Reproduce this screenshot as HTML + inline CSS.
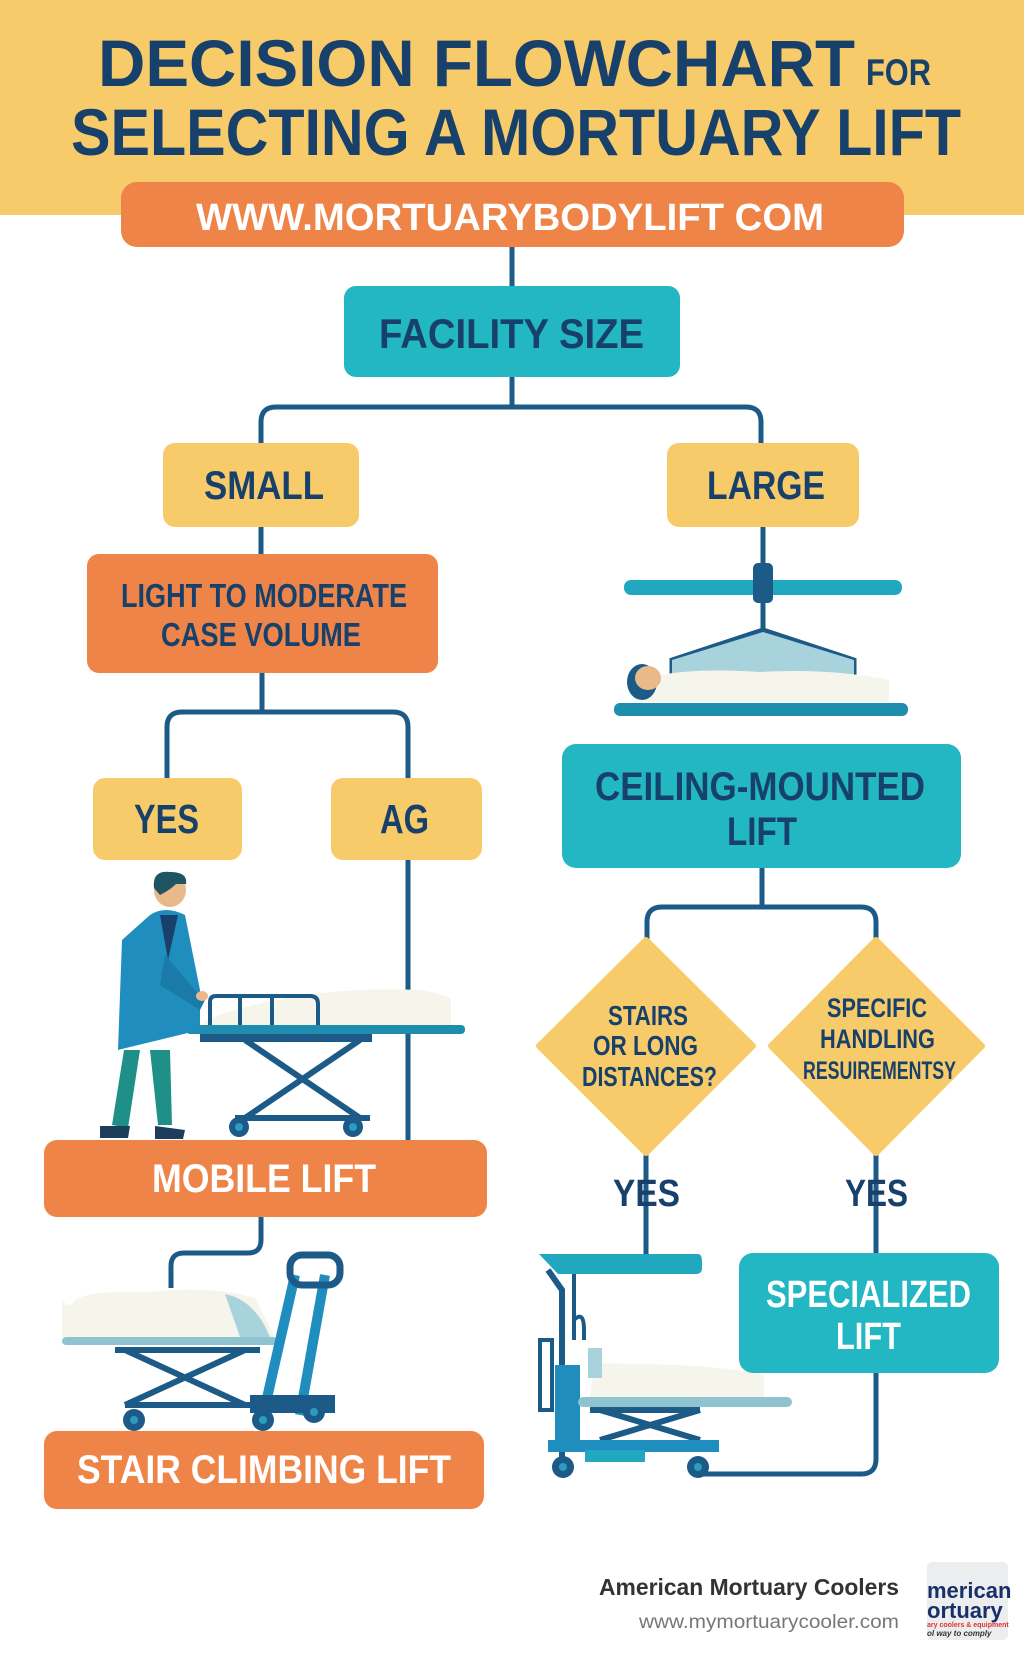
<!DOCTYPE html>
<html><head><meta charset="utf-8"><style>
html,body{margin:0;padding:0;background:#fff;}
svg{display:block;}
text{font-family:"Liberation Sans",sans-serif;font-weight:bold;}
</style></head><body>
<svg width="1024" height="1666" viewBox="0 0 1024 1666" xmlns="http://www.w3.org/2000/svg">
<rect x="0" y="0" width="1024" height="215" fill="#F8CB6A"/>
<text x="98" y="86" font-size="66" fill="#17416A" textLength="757" lengthAdjust="spacingAndGlyphs">DECISION FLOWCHART</text>
<text x="866" y="85" font-size="37" fill="#17416A" textLength="65" lengthAdjust="spacingAndGlyphs">FOR</text>
<text x="71" y="155" font-size="66" fill="#17416A" textLength="890" lengthAdjust="spacingAndGlyphs">SELECTING A MORTUARY LIFT</text>

<g fill="none" stroke="#1C5A88" stroke-width="5" stroke-linejoin="round">
<path d="M512 247 V286"/>
<path d="M512 377 V407"/>
<path d="M261 443 V422 Q261 407 276 407 H746 Q761 407 761 422 V443"/>
<path d="M261 527 V554"/>
<path d="M763 527 V565"/>
<path d="M262 673 V712"/>
<path d="M167 778 V727 Q167 712 182 712 H393 Q408 712 408 727 V778"/>
<path d="M408 860 V1140"/>
<path d="M762 868 V907"/>
<path d="M647 940 V922 Q647 907 662 907 H861 Q876 907 876 922 V940"/>
<path d="M646 1153 V1254"/>
<path d="M876 1153 V1253"/>
<path d="M876 1373 V1459 Q876 1474 861 1474 H703"/>
<path d="M261 1217 V1240 Q261 1253 248 1253 H184 Q171 1253 171 1266 V1288"/>
</g>

<rect x="121" y="182" width="783" height="65" rx="16" fill="#EF8449"/>
<text x="196" y="230" font-size="38" fill="#fff" textLength="628" lengthAdjust="spacingAndGlyphs">WWW.MORTUARYBODYLIFT COM</text>

<rect x="344" y="286" width="336" height="91" rx="12" fill="#22B7C3"/>
<text x="379" y="348" font-size="42" fill="#17416A" textLength="265" lengthAdjust="spacingAndGlyphs">FACILITY SIZE</text>

<rect x="163" y="443" width="196" height="84" rx="12" fill="#F8CB6A"/>
<text x="204" y="499" font-size="40" fill="#17416A" textLength="120" lengthAdjust="spacingAndGlyphs">SMALL</text>
<rect x="667" y="443" width="192" height="84" rx="12" fill="#F8CB6A"/>
<text x="707" y="499" font-size="40" fill="#17416A" textLength="118" lengthAdjust="spacingAndGlyphs">LARGE</text>

<rect x="87" y="554" width="351" height="119" rx="12" fill="#EF8449"/>
<text x="121" y="607" font-size="33" fill="#17416A" textLength="286" lengthAdjust="spacingAndGlyphs">LIGHT TO MODERATE</text>
<text x="161" y="646" font-size="33" fill="#17416A" textLength="200" lengthAdjust="spacingAndGlyphs">CASE VOLUME</text>

<rect x="93" y="778" width="149" height="82" rx="12" fill="#F8CB6A"/>
<text x="134" y="833" font-size="41" fill="#17416A" textLength="65" lengthAdjust="spacingAndGlyphs">YES</text>
<rect x="331" y="778" width="151" height="82" rx="12" fill="#F8CB6A"/>
<text x="380" y="833" font-size="41" fill="#17416A" textLength="49" lengthAdjust="spacingAndGlyphs">AG</text>

<!-- ceiling illustration -->
<rect x="624" y="580" width="278" height="15" rx="7" fill="#22A7C0"/>
<rect x="753" y="563" width="20" height="40" rx="5" fill="#1C5A88"/>
<path d="M763 603 V630 M763 630 L672 660 V690 M763 630 L854 660 V690" stroke="#1C5A88" stroke-width="5" fill="none"/>
<path d="M672 660 L763 632 L854 660 V700 H672 Z" fill="#A9D3DC"/>
<path d="M660 675 Q700 668 760 672 Q830 668 889 680 V702 H640 Z" fill="#F6F5EC"/>
<ellipse cx="642" cy="682" rx="15" ry="18" fill="#1C5A88"/>
<ellipse cx="648" cy="678" rx="13" ry="12" fill="#E9B98A"/>
<rect x="614" y="703" width="294" height="13" rx="6" fill="#1F8EAE"/>

<rect x="562" y="744" width="399" height="124" rx="14" fill="#22B7C3"/>
<text x="595" y="800" font-size="40" fill="#17416A" textLength="330" lengthAdjust="spacingAndGlyphs">CEILING-MOUNTED</text>
<text x="727" y="845" font-size="40" fill="#17416A" textLength="70" lengthAdjust="spacingAndGlyphs">LIFT</text>

<!-- diamonds -->
<path d="M646 940 L753 1046 L646 1153 L539 1046 Z" fill="#F8CB6A" stroke="#F8CB6A" stroke-width="6" stroke-linejoin="round"/>
<path d="M876 940 L982 1046 L876 1153 L771 1046 Z" fill="#F8CB6A" stroke="#F8CB6A" stroke-width="6" stroke-linejoin="round"/>
<text x="608" y="1025" font-size="28" fill="#17416A" textLength="80" lengthAdjust="spacingAndGlyphs">STAIRS</text>
<text x="593" y="1055" font-size="28" fill="#17416A" textLength="105" lengthAdjust="spacingAndGlyphs">OR LONG</text>
<text x="582" y="1086" font-size="28" fill="#17416A" textLength="135" lengthAdjust="spacingAndGlyphs">DISTANCES?</text>
<text x="827" y="1017" font-size="27" fill="#17416A" textLength="100" lengthAdjust="spacingAndGlyphs">SPECIFIC</text>
<text x="820" y="1048" font-size="27" fill="#17416A" textLength="115" lengthAdjust="spacingAndGlyphs">HANDLING</text>
<text x="803" y="1079" font-size="25" fill="#17416A" textLength="153" lengthAdjust="spacingAndGlyphs">RESUIREMENTSY</text>

<text x="613" y="1206" font-size="38" fill="#17416A" textLength="67" lengthAdjust="spacingAndGlyphs">YES</text>
<text x="845" y="1206" font-size="38" fill="#17416A" textLength="63" lengthAdjust="spacingAndGlyphs">YES</text>

<!-- person + stretcher -->
<g>
<path d="M205 1020 Q300 985 420 990 Q450 995 451 1000 V1025 H203 Z" fill="#F6F5EC"/>
<path d="M210 1025 V1002 Q210 996 216 996 H310 Q318 996 318 1004 V1025 M240 998 V1025 M272 998 V1025" stroke="#1C5A88" stroke-width="4" fill="none"/>
<rect x="186" y="1025" width="279" height="9" rx="4" fill="#1F8EAE"/>
<rect x="200" y="1034" width="172" height="8" fill="#1C5A88"/>
<path d="M245 1040 L360 1118 M360 1040 L245 1118 M235 1118 H370" stroke="#1C5A88" stroke-width="6" fill="none"/>
<circle cx="239" cy="1127" r="10" fill="#1C5A88"/><circle cx="353" cy="1127" r="10" fill="#1C5A88"/>
<circle cx="239" cy="1127" r="4" fill="#2A9CC0"/><circle cx="353" cy="1127" r="4" fill="#2A9CC0"/>
<ellipse cx="170" cy="890" rx="16" ry="17" fill="#E9B98A"/>
<path d="M154 888 Q152 870 170 872 Q188 872 186 884 L176 884 Q170 890 160 895 Z" fill="#1E5560"/>
<path d="M150 915 Q165 905 185 915 L200 990 L200 1030 L118 1050 L122 940 Z" fill="#1F8EBE"/>
<path d="M160 915 L168 960 L178 915 Z" fill="#17416A"/>
<path d="M165 955 L195 990 L205 1000 L200 1010 L160 985 Z" fill="#1A7AA8"/>
<path d="M124 1050 L112 1125 L128 1128 L140 1050 Z M150 1050 L158 1125 L172 1125 L170 1050 Z" fill="#1E9088"/>
<path d="M100 1126 L130 1126 L128 1138 L100 1138 Z M155 1126 L185 1130 L183 1139 L155 1139 Z" fill="#1C3E5A"/>
<ellipse cx="202" cy="996" rx="6" ry="5" fill="#E9B98A"/>
</g>

<rect x="44" y="1140" width="443" height="77" rx="13" fill="#EF8449"/>
<text x="152" y="1192" font-size="40" fill="#fff" textLength="224" lengthAdjust="spacingAndGlyphs">MOBILE LIFT</text>

<!-- stair climbing illustration -->
<g>
<path d="M62 1300 Q70 1310 75 1300 Q90 1290 150 1292 Q210 1285 255 1298 L275 1337 H62 Z" fill="#F6F5EC"/>
<path d="M225 1294 Q255 1300 270 1337 H240 Z" fill="#A9D3DC"/>
<rect x="62" y="1337" width="215" height="8" rx="4" fill="#8EC3CF"/>
<path d="M125 1350 L245 1405 M245 1350 L125 1405 M115 1350 H260 M125 1405 H280" stroke="#1C5A88" stroke-width="6" fill="none"/>
<path d="M295 1275 L262 1420 M325 1275 L300 1415" stroke="#1F8EBE" stroke-width="10" fill="none"/>
<rect x="290" y="1255" width="50" height="30" rx="12" fill="none" stroke="#1C5A88" stroke-width="7"/>
<rect x="250" y="1395" width="85" height="18" fill="#1C5A88"/>
<circle cx="134" cy="1420" r="11" fill="#1C5A88"/><circle cx="263" cy="1420" r="11" fill="#1C5A88"/><circle cx="314" cy="1412" r="11" fill="#1C5A88"/>
<circle cx="134" cy="1420" r="4" fill="#2A9CC0"/><circle cx="263" cy="1420" r="4" fill="#2A9CC0"/><circle cx="314" cy="1412" r="4" fill="#2A9CC0"/>
</g>

<rect x="44" y="1431" width="440" height="78" rx="13" fill="#EF8449"/>
<text x="77" y="1483" font-size="40" fill="#fff" textLength="374" lengthAdjust="spacingAndGlyphs">STAIR CLIMBING LIFT</text>

<!-- right bottom lift -->
<g>
<path d="M539 1254 H698 Q702 1254 702 1262 V1268 Q702 1274 696 1274 H558 Z" fill="#22A7C0"/>
<path d="M548 1270 L562 1290 V1470" stroke="#1C5A88" stroke-width="6" fill="none"/>
<path d="M574 1274 V1340 M574 1320 Q584 1310 584 1330 V1340" stroke="#1C5A88" stroke-width="4" fill="none"/>
<path d="M552 1340 V1410 M540 1340 H552 V1410 H540 Z" stroke="#1C5A88" stroke-width="4" fill="none"/>
<rect x="555" y="1365" width="25" height="85" fill="#1F8EBE"/>
<path d="M594 1363 L590 1397 H764 V1375 Q720 1365 640 1364 Z" fill="#F6F5EC"/>
<rect x="588" y="1348" width="14" height="30" fill="#A9D3DC"/>
<rect x="578" y="1397" width="214" height="10" rx="5" fill="#8EC3CF"/>
<path d="M600 1410 L700 1440 M700 1410 L600 1440 M590 1410 H700" stroke="#1C5A88" stroke-width="6" fill="none"/>
<rect x="548" y="1440" width="171" height="12" fill="#1F8EBE"/>
<rect x="585" y="1450" width="60" height="12" fill="#22A7C0"/>
<circle cx="563" cy="1467" r="11" fill="#1C5A88"/><circle cx="698" cy="1467" r="11" fill="#1C5A88"/>
<circle cx="563" cy="1467" r="4" fill="#2A9CC0"/><circle cx="698" cy="1467" r="4" fill="#2A9CC0"/>
</g>

<rect x="739" y="1253" width="260" height="120" rx="14" fill="#22B7C3"/>
<text x="766" y="1307" font-size="38" fill="#fff" textLength="205" lengthAdjust="spacingAndGlyphs">SPECIALIZED</text>
<text x="836" y="1349" font-size="38" fill="#fff" textLength="65" lengthAdjust="spacingAndGlyphs">LIFT</text>

<!-- footer -->
<text x="899" y="1595" font-size="23" fill="#333" text-anchor="end" textLength="300" lengthAdjust="spacingAndGlyphs">American Mortuary Coolers</text>
<text x="899" y="1628" font-size="19" fill="#777" font-weight="normal" style="font-weight:normal" text-anchor="end" textLength="260" lengthAdjust="spacingAndGlyphs">www.mymortuarycooler.com</text>
<rect x="927" y="1562" width="81" height="78" rx="5" fill="#ECEDEE"/>
<text x="927" y="1598" font-size="22" fill="#17306A">merican</text>
<text x="927" y="1618" font-size="22" fill="#17306A">ortuary</text>
<text x="927" y="1627" font-size="7" fill="#D33">ary coolers &amp; equipment</text>
<text x="927" y="1636" font-size="8" fill="#333" font-style="italic">ol way to comply</text>
</svg>
</body></html>
